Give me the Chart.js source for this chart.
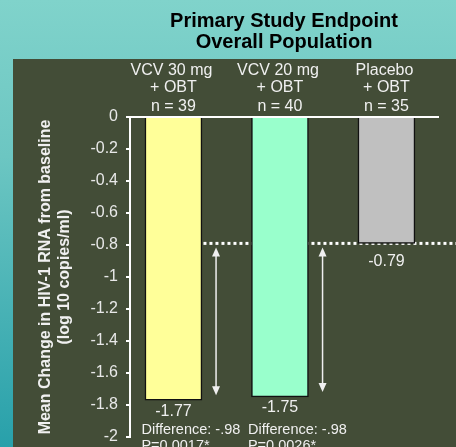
<!DOCTYPE html>
<html>
<head>
<meta charset="utf-8">
<script src="https://cdn.jsdelivr.net/npm/chart.js@4.4.1/dist/chart.umd.min.js"></script>
<style>
  html, body { margin: 0; padding: 0; }
  body {
    width: 456px;
    height: 447px;
    overflow: hidden;
    background: linear-gradient(to bottom, #80d3cb 0%, #6cc6c2 35%, #28a0aa 100%);
  }
  #chart-wrap { position: relative; width: 456px; height: 447px; }
</style>
</head>
<body>
<div id="chart-wrap"><canvas id="endpoint-chart"></canvas></div>
<script>
// data
const categories = [
    ["VCV 30 mg", "+ OBT"],
    ["VCV 20 mg", "+ OBT"],
    ["Placebo", "+ OBT"],
];
const patients = [39, 40, 35];
const meanChange = [-1.77, -1.75, -0.79];
const differences = [-0.98, -0.98, null];
const pValues = ["P=0.0017*", "P=0.0026*", null];
const yTicks = [0, -0.2, -0.4, -0.6, -0.8, -1, -1.2, -1.4, -1.6, -1.8, -2];

const barColors = ["#ffff99", "#99ffcc", "#c0c0c0"];
const placeboIndex = 2;

const FONT = "'Liberation Sans', Arial, sans-serif";
const textColor = "#f0f0f0";

let chartCanvas = document.getElementById("endpoint-chart");

// dark panel behind the plot
const panelPlugin = {
    id: "panel",
    beforeDraw(chart) {
        const ctx = chart.ctx;
        ctx.save();
        ctx.fillStyle = "#434d37";
        ctx.fillRect(13, 59, chart.width - 13, chart.height - 59);
        ctx.restore();
    },
};

function formatDiff(v) {
    return v.toFixed(2).replace("-0.", "-.");
}

function drawArrowHead(ctx, x, y, dir) {
    ctx.beginPath();
    ctx.moveTo(x, y);
    ctx.lineTo(x - 4, y - dir * 9);
    ctx.lineTo(x + 4, y - dir * 9);
    ctx.closePath();
    ctx.fill();
}

const annotationPlugin = {
    id: "annotations",
    beforeDatasetsDraw(chart) {
        const { ctx, scales } = chart;
        const yRef = scales.y.getPixelForValue(meanChange[placeboIndex]);
        ctx.save();
        ctx.strokeStyle = "#ffffff";
        ctx.lineWidth = 3;
        ctx.setLineDash([3, 3]);
        ctx.beginPath();
        ctx.moveTo(scales.x.getPixelForValue(0), yRef);
        ctx.lineTo(chart.width, yRef);
        ctx.stroke();
        ctx.restore();
    },
    afterDatasetsDraw(chart) {
        const { ctx, scales } = chart;
        const x = scales.x;
        const y = scales.y;
        const yRef = y.getPixelForValue(meanChange[placeboIndex]);
        ctx.save();
        ctx.fillStyle = textColor;
        ctx.strokeStyle = textColor;
        ctx.textAlign = "center";
        ctx.textBaseline = "middle";

        categories.forEach((lines, i) => {
            const cx = x.getPixelForValue(i);
            const yEnd = y.getPixelForValue(meanChange[i]);

            // column headers
            ctx.font = "16px " + FONT;
            ctx.fillText(lines[0], cx - 2, 71);
            ctx.fillText(lines[1], cx, 87.5);
            ctx.fillText("n = " + patients[i], cx, 107);

            // value under each bar
            const gap = i === placeboIndex ? 18 : 11;
            ctx.fillText(meanChange[i].toFixed(2), cx, yEnd + gap);

            if (differences[i] === null) return;

            // double arrow from placebo level down to the bar level
            const ax = x.getPixelForValue(i + 0.4);
            const top = yRef + 4;
            const bottom = yEnd - 5;
            ctx.lineWidth = 1.5;
            ctx.beginPath();
            ctx.moveTo(ax, top + 6);
            ctx.lineTo(ax, bottom - 6);
            ctx.stroke();
            drawArrowHead(ctx, ax, top, -1);
            drawArrowHead(ctx, ax, bottom, 1);

            ctx.textAlign = "left";
            ctx.font = "14.5px " + FONT;
            ctx.fillText("Difference: " + formatDiff(differences[i]), cx - 32, 430);
            ctx.fillText(pValues[i], cx - 32, 446);
            ctx.textAlign = "center";
        });
        ctx.restore();
    },
};

const endpointChart = new Chart(chartCanvas, {
    type: "bar",
    data: {
        datasets: [
            {
                label: "Mean change",
                data: meanChange.map((v, i) => ({ x: i, y: v })),
                backgroundColor: barColors,
                borderColor: "#111111",
                borderWidth: 1.5,
                barThickness: 57,
            },
        ],
    },
    options: {
        responsive: true,
        maintainAspectRatio: false,
        animation: false,
        layout: {
            padding: { top: 0, left: 13, right: 18, bottom: 10 },
        },
        scales: {
            x: {
                type: "linear",
                position: "top",
                offset: false,
                min: -0.408,
                max: 2.484,
                grid: { display: false, drawTicks: false, offset: false },
                ticks: { display: false },
                border: { color: "#ffffff", width: 2 },
                afterFit(scale) {
                    scale.height = 0;
                },
            },
            y: {
                min: -2,
                max: 0,
                afterBuildTicks(scale) {
                    scale.ticks = yTicks.map((v) => ({ value: v }));
                },
                ticks: {
                    color: "#e8e8e8",
                    padding: 8,
                    font: { family: FONT, size: 16 },
                    callback: (v) => String(Number(v.toFixed(1))),
                },
                grid: {
                    drawOnChartArea: false,
                    drawTicks: true,
                    tickLength: 4,
                    color: "#ffffff",
                    lineWidth: 2,
                },
                border: { color: "#ffffff", width: 2 },
                title: {
                    display: true,
                    text: [
                        "Mean Change in HIV-1 RNA from baseline",
                        "(log 10 copies/ml)",
                    ],
                    color: textColor,
                    font: { family: FONT, size: 16, weight: "bold", lineHeight: 1.2 },
                    padding: { top: 23, bottom: 10 },
                },
                afterFit(scale) {
                    scale.width = 117;
                    scale.paddingTop = 0;
                    scale.paddingBottom = 0;
                },
            },
        },
        plugins: {
            title: {
                display: true,
                fullSize: false,
                text: ["Primary Study Endpoint", "Overall Population"],
                color: "#000000",
                font: { family: FONT, size: 20, weight: "bold", lineHeight: 1.05 },
                padding: { top: 11, bottom: 64 },
            },
            legend: { display: false },
            tooltip: { enabled: false },
        },
    },
    plugins: [panelPlugin, annotationPlugin],
});
</script>
</body>
</html>
